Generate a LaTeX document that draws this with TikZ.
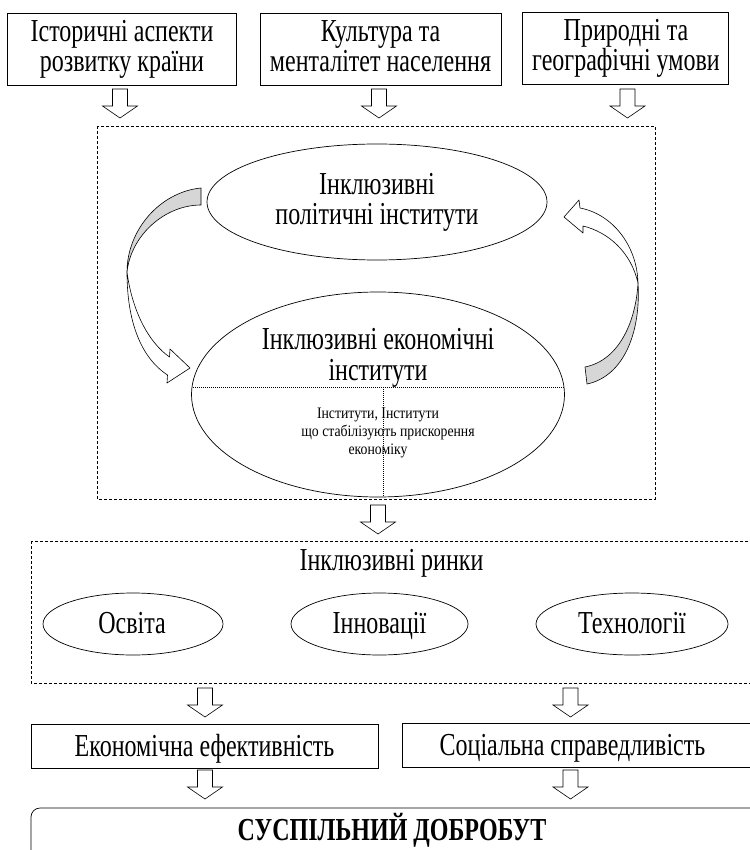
\documentclass[tikz,border=0pt]{standalone}
\usepackage{fontspec}
\setmainfont{Liberation Serif}[FakeStretch=0.75]
\newfontfamily\smallfam{Liberation Serif}[FakeStretch=0.86]
\usetikzlibrary{shapes.geometric}
\begin{document}
\begin{tikzpicture}[x=1pt,y=-1pt,
  every node/.style={inner sep=0pt, outer sep=0pt},
  txt/.style={anchor=base, font=\fontsize{32}{29}\selectfont},
  btxt/.style={anchor=base, font=\bfseries\fontsize{32}{29}\selectfont},
  stxt/.style={anchor=base, font=\smallfam\fontsize{16}{18}\selectfont},
  frame/.style={draw, line width=0.7pt},
  ell/.style={draw, ellipse, line width=0.7pt},
  dashframe/.style={draw, line width=0.6pt, dash pattern=on 3pt off 2pt},
  dotline/.style={line width=0.6pt, dash pattern=on 1pt off 1pt},
  band/.style={draw, line width=0.6pt, line join=round},
  darrow/.pic={\draw[line width=0.6pt, fill=white] (-7.5,0) -- (7.5,0) -- (7.5,17) -- (17.5,17) -- (0,29) -- (-17.5,17) -- (-7.5,17) -- cycle;},
]
\useasboundingbox (0,0) rectangle (749,850);
\fill[white] (0,0) rectangle (749,850);

% top boxes
\node[frame, minimum width=229pt, minimum height=72pt] (hist) at (121.5,49) {};
\node[txt] (hista) at (122,42) {Історичні аспекти};
\node[txt] (histb) at (122,72) {розвитку країни};
\node[frame, minimum width=241pt, minimum height=72pt] (cult) at (380.5,49) {};
\node[txt] (culta) at (380.5,42) {Культура та};
\node[txt] (cultb) at (380.5,72) {менталітет населення};
\node[frame, minimum width=206pt, minimum height=72pt] (geo) at (625,48) {};
\node[txt] (geoa) at (626,41) {Природні та};
\node[txt] (geob) at (626,71) {географічні умови};

\pic at (120,89) {darrow};
\pic at (379,89) {darrow};
\pic at (627.5,89) {darrow};

% institutions frame
\draw[dashframe] (97,126) rectangle (655,499);

\node[ell, minimum width=340pt, minimum height=116pt] (pol) at (377,202) {};
\node[txt] (pola) at (377,195) {Інклюзивні};
\node[txt] (polb) at (377,224) {політичні інститути};

\node[ell, minimum width=373pt, minimum height=205pt] (econ) at (378,394.5) {};
\node[txt] (econa) at (378,349) {Інклюзивні економічні};
\node[txt] (econb) at (378,380) {інститути};
\draw[dotline] (192.8,387) -- (563.2,387);
\draw[dotline] (383,387) -- (383,496);
\node[stxt] (s1) at (378,418) {Інститути, Інститути};
\node[stxt] (s2) at (388,436) {що стабілізують прискорення};
\node[stxt] (s3) at (378,454) {економіку};

% left curved arrow
\filldraw[band, fill=black!16] (201,188) .. controls (160,192) and (127,230) .. (127,272)
  .. controls (131,235) and (165,205) .. (201,205) -- cycle;
\draw[band, fill=white] (127,272) .. controls (127,320) and (140,357) .. (167.5,375)
  -- (167,383) -- (190,368) -- (170,349) -- (169.5,357)
  .. controls (148,342) and (132,310) .. (127,272) -- cycle;

% right curved arrow
\filldraw[band, fill=black!16] (585,367) .. controls (620,360) and (636,320) .. (638,283)
  .. controls (641,330) and (625,376) .. (587,384) -- cycle;
\draw[band, fill=white] (638,283) .. controls (637,245) and (612,214) .. (580,208)
  -- (579,200) -- (564,217) -- (583,233) -- (583,226)
  .. controls (608,232) and (631,252) .. (638,283) -- cycle;

\pic at (378,505) {darrow};

% markets frame
\draw[dashframe] (31,541) rectangle (765,683);
\node[txt] (mkt) at (391.5,570) {Інклюзивні ринки};
\node[ell, minimum width=180pt, minimum height=62pt] (edu) at (133,624) {};
\node[txt] (edut) at (132,633) {Освіта};
\node[ell, minimum width=177pt, minimum height=62pt] (inn) at (379.5,624) {};
\node[txt] (innt) at (379.5,633) {Інновації};
\node[ell, minimum width=192pt, minimum height=62pt] (tech) at (632,624) {};
\node[txt] (techt) at (632,633) {Технології};

\pic at (205,688) {darrow};
\pic at (570.5,688) {darrow};

\node[frame, minimum width=347pt, minimum height=44pt] (eff) at (204.5,746) {};
\node[txt] (efft) at (204.5,756) {Економічна ефективність};
\node[frame, minimum width=368pt, minimum height=44pt, anchor=west] (soc) at (402,745) {};
\node[txt] (soct) at (572.5,755) {Соціальна справедливість};

\pic at (205,770) {darrow};
\pic at (570.5,770) {darrow};

\draw[frame, rounded corners=9pt] (31,808) rectangle (780,880);
\node[btxt] (welf) at (392,840) {СУСПІЛЬНИЙ ДОБРОБУТ};
\end{tikzpicture}
\end{document}
